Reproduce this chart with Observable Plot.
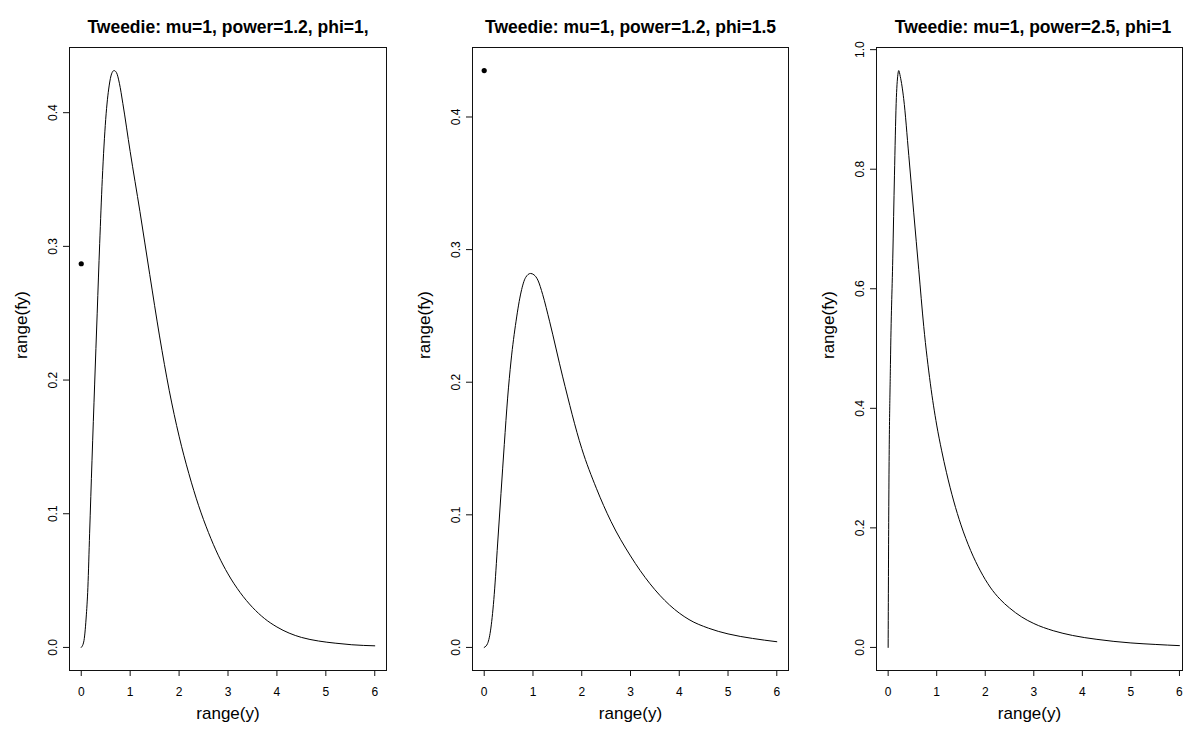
<!DOCTYPE html>
<html>
<head>
<meta charset="utf-8">
<script src="https://cdn.jsdelivr.net/npm/d3@7"></script>
<script src="https://cdn.jsdelivr.net/npm/@observablehq/plot@0.6"></script>
<style>
  html, body { margin: 0; padding: 0; background: #fff; }
  #wrap { position: relative; width: 1183px; height: 729px; overflow: hidden; background: #fff; }
  #wrap > div { position: absolute; top: 0; }
</style>
</head>
<body>
<div id="wrap">
  <div id="p1" style="left:0px"></div>
  <div id="p2" style="left:400px"></div>
  <div id="p3" style="left:800px"></div>
</div>
<script>
// ---- data ----
const titles = [
  "Tweedie: mu=1, power=1.2, phi=1,",
  "Tweedie: mu=1, power=1.2, phi=1.5",
  "Tweedie: mu=1, power=2.5, phi=1"
];
const xLabel = "range(y)";
const yLabel = "range(fy)";
const xTicks = [0, 1, 2, 3, 4, 5, 6];
const yTicksA = [0, 0.1, 0.2, 0.3, 0.4];
const yTicksB = [0, 0.2, 0.4, 0.6, 0.8, 1.0];

// panel 1: power 1.2, phi 1
const y1 = [0, 0.05, 0.1, 0.136, 0.171, 0.22, 0.274, 0.326, 0.377, 0.43, 0.5, 0.57, 0.62, 0.67, 0.72, 0.78, 0.85, 1.0, 1.2, 1.4, 1.6, 1.8, 2.0, 2.2, 2.4, 2.6, 2.8, 3.0, 3.25, 3.5, 3.75, 4.0, 4.25, 4.5, 4.85, 5.19, 5.53, 6.0];
const fy1 = [0, 0.004, 0.022, 0.045, 0.085, 0.14, 0.197, 0.25, 0.302, 0.35, 0.395, 0.42, 0.429, 0.4315, 0.43, 0.422, 0.407, 0.371, 0.326, 0.279, 0.233, 0.192, 0.158, 0.13, 0.106, 0.086, 0.069, 0.055, 0.041, 0.03, 0.0215, 0.0153, 0.0107, 0.0075, 0.0048, 0.0032, 0.002, 0.0012];
const zeroMass1 = [0, 0.287];

// panel 2: power 1.2, phi 1.5
const y2 = [0, 0.07, 0.137, 0.206, 0.275, 0.344, 0.412, 0.48, 0.55, 0.653, 0.756, 0.85, 0.95, 1.02, 1.1, 1.2, 1.34, 1.61, 2.0, 2.3, 2.6, 3.0, 3.4, 3.8, 4.2, 4.6, 5.0, 5.5, 6.0];
const fy2 = [0, 0.003, 0.0146, 0.04, 0.078, 0.116, 0.153, 0.188, 0.216, 0.246, 0.268, 0.279, 0.282, 0.281, 0.277, 0.266, 0.246, 0.204, 0.15, 0.12, 0.095, 0.069, 0.048, 0.032, 0.021, 0.0145, 0.0102, 0.0068, 0.0043];
const zeroMass2 = [0, 0.435];

// panel 3: power 2.5, phi 1
const y3 = [0, 0.012, 0.047, 0.095, 0.13, 0.165, 0.2, 0.218, 0.25, 0.32, 0.425, 0.527, 0.63, 0.733, 0.87, 1.0, 1.1, 1.2, 1.35, 1.5, 1.7, 1.9, 2.1, 2.3, 2.5, 2.75, 3.0, 3.4, 3.8, 4.3, 5.0, 5.5, 6.0];
const fy3 = [0, 0.22, 0.473, 0.65, 0.79, 0.91, 0.958, 0.965, 0.955, 0.918, 0.823, 0.727, 0.632, 0.537, 0.441, 0.372, 0.33, 0.293, 0.245, 0.205, 0.162, 0.128, 0.101, 0.081, 0.066, 0.051, 0.04, 0.028, 0.02, 0.0135, 0.0075, 0.005, 0.003];

const FONT = "'Liberation Sans', Arial, Helvetica, sans-serif";

function panel({width, mL, mR, xMax, title, titleDx, xs, ys, dot, yTicks}) {
  const data = xs.map((x, i) => ({x, y: ys[i]}));
  const m = d3.max(dot ? [...ys, dot[1]] : ys);
  return Plot.plot({
    width, height: 729,
    marginLeft: mL, marginRight: mR, marginTop: 47, marginBottom: 59,
    x: {domain: [-0.24, xMax]},
    y: {domain: [-0.04 * m, 1.04 * m]},
    style: {fontFamily: FONT, background: "#fff", color: "#000", overflow: "visible"},
    marks: [
      Plot.frame({stroke: "#111", strokeWidth: 1}),
      Plot.axisX({ticks: xTicks, tickSize: 6, tickPadding: 11, fontSize: 12, label: null, tickFormat: d => String(d), stroke: "#111"}),
      Plot.axisY({ticks: yTicks, tickSize: 6, tickRotate: -90, tickPadding: 7, fontSize: 12, label: null, tickFormat: d => d.toFixed(1), stroke: "#111"}),
      Plot.line(data, {x: "x", y: "y", stroke: "#000", strokeWidth: 1, curve: "monotone-x"}),
      dot ? Plot.dot([dot], {x: d => d[0], y: d => d[1], r: 2.6, fill: "#000", stroke: null}) : null,
      Plot.text([title], {text: d => d, frameAnchor: "top", dy: -27, dx: titleDx, fontSize: 17.5, fontWeight: "bold"}),
      Plot.text([xLabel], {text: d => d, frameAnchor: "bottom", dy: 48, fontSize: 17}),
      Plot.text([yLabel], {text: d => d, frameAnchor: "left", dx: -48, rotate: -90, fontSize: 17})
    ]
  });
}

document.getElementById("p1").append(panel({
  width: 394, mL: 69, mR: 8, xMax: 6.24, title: titles[0], titleDx: 0,
  xs: y1, ys: fy1, dot: zeroMass1, yTicks: yTicksA
}));
document.getElementById("p2").append(panel({
  width: 394, mL: 72, mR: 6, xMax: 6.24, title: titles[1], titleDx: 0,
  xs: y2, ys: fy2, dot: zeroMass2, yTicks: yTicksA
}));
document.getElementById("p3").append(panel({
  width: 383, mL: 76, mR: 1, xMax: 6.063, title: titles[2], titleDx: 3.5,
  xs: y3, ys: fy3, dot: null, yTicks: yTicksB
}));
</script>
</body>
</html>
